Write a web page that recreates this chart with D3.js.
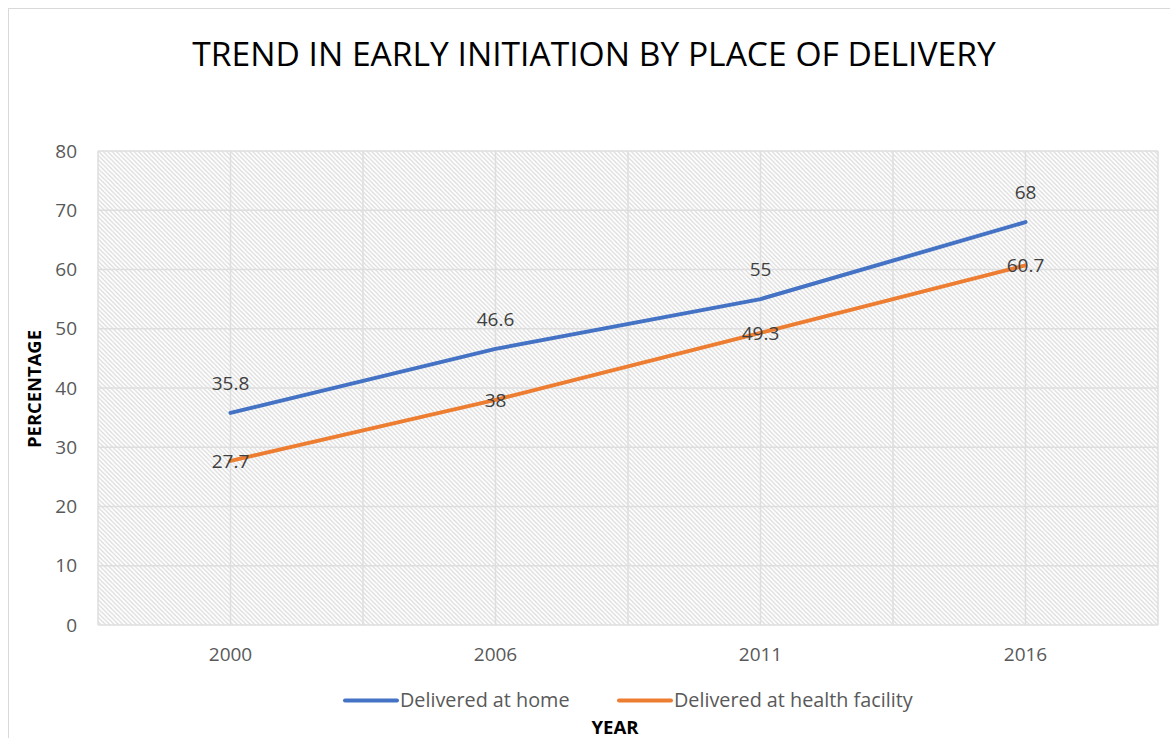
<!DOCTYPE html>
<html>
<head>
<meta charset="utf-8">
<script src="https://cdn.jsdelivr.net/npm/d3@7"></script>
<style>
  body { margin: 0; background: #fff; }
  text { font-family: "Open Sans", "DejaVu Sans", sans-serif; }
</style>
</head>
<body>
<svg id="chart"></svg>
<script>
const width = 1170, height = 738;

// chart data
const years = ["2000", "2006", "2011", "2016"];
const homeValues = [35.8, 46.6, 55, 68];
const facilityValues = [27.7, 38, 49.3, 60.7];
const yTicks = [0, 10, 20, 30, 40, 50, 60, 70, 80];
const seriesNames = ["Delivered at home", "Delivered at health facility"];
const seriesColors = ["#4472C4", "#ED7D31"];

const plot = { left: 98, right: 1158, top: 151, bottom: 625 };

const svg = d3.select("#chart")
    .attr("width", width)
    .attr("height", height);

// hatch pattern for plot background
const defs = svg.append("defs");
const pat = defs.append("pattern")
    .attr("id", "hatch")
    .attr("patternUnits", "userSpaceOnUse")
    .attr("width", 4.4)
    .attr("height", 4.4);
pat.append("path")
    .attr("d", "M-1,-1 L5.4,5.4 M-1,3.4 L1,5.4 M3.4,-1 L5.4,1")
    .attr("stroke", "#d8d8d8")
    .attr("stroke-width", 1.1);

// outer chart border
svg.append("rect")
    .attr("x", 8.5).attr("y", 8.5)
    .attr("width", 1200).attr("height", 800)
    .attr("fill", "none")
    .attr("stroke", "#d9d9d9");

const x = d3.scaleBand()
    .domain(years)
    .range([plot.left, plot.right]);

const y = d3.scaleLinear()
    .domain([0, 80])
    .range([plot.bottom, plot.top]);

const cx = d => x(d) + x.bandwidth() / 2;

svg.append("rect")
    .attr("x", plot.left).attr("y", plot.top)
    .attr("width", plot.right - plot.left)
    .attr("height", plot.bottom - plot.top)
    .attr("fill", "url(#hatch)");

// horizontal gridlines
svg.append("g")
    .selectAll("line")
    .data(yTicks)
    .join("line")
    .attr("x1", plot.left).attr("x2", plot.right)
    .attr("y1", d => y(d)).attr("y2", d => y(d))
    .attr("stroke", "#dedede")
    .attr("stroke-width", 1.5);

// vertical gridlines: band edges and category centres
const vLines = [];
years.forEach(yr => { vLines.push(x(yr)); vLines.push(cx(yr)); });
vLines.push(plot.right);
svg.append("g")
    .selectAll("line")
    .data(vLines)
    .join("line")
    .attr("x1", d => d).attr("x2", d => d)
    .attr("y1", plot.top).attr("y2", plot.bottom)
    .attr("stroke", "#dedede")
    .attr("stroke-width", 1.5);

// y axis labels
svg.append("g")
    .selectAll("text")
    .data(yTicks)
    .join("text")
    .attr("x", 77)
    .attr("y", d => y(d))
    .attr("dy", "0.35em")
    .attr("text-anchor", "end")
    .attr("font-size", 19)
    .attr("fill", "#595959")
    .text(d => d);

// x axis labels
svg.append("g")
    .selectAll("text")
    .data(years)
    .join("text")
    .attr("x", d => cx(d))
    .attr("y", 654)
    .attr("dy", "0.35em")
    .attr("text-anchor", "middle")
    .attr("font-size", 19)
    .attr("fill", "#595959")
    .text(d => d);

// lines
const line = d3.line()
    .x((d, i) => cx(years[i]))
    .y(d => y(d));

[homeValues, facilityValues].forEach((vals, k) => {
    svg.append("path")
        .datum(vals)
        .attr("d", line)
        .attr("fill", "none")
        .attr("stroke", seriesColors[k])
        .attr("stroke-width", 4)
        .attr("stroke-linecap", "round")
        .attr("stroke-linejoin", "round");
});

// data labels: home above, facility centred
svg.append("g")
    .selectAll("text")
    .data(homeValues)
    .join("text")
    .attr("x", (d, i) => cx(years[i]))
    .attr("y", d => y(d) - 30)
    .attr("dy", "0.35em")
    .attr("text-anchor", "middle")
    .attr("font-size", 19)
    .attr("fill", "#404040")
    .text(d => d);

svg.append("g")
    .selectAll("text")
    .data(facilityValues)
    .join("text")
    .attr("x", (d, i) => cx(years[i]))
    .attr("y", d => y(d))
    .attr("dy", "0.35em")
    .attr("text-anchor", "middle")
    .attr("font-size", 19)
    .attr("fill", "#404040")
    .text(d => d);

// title
svg.append("text")
    .attr("x", 594)
    .attr("y", 66)
    .attr("text-anchor", "middle")
    .attr("font-size", 33.6)
    .attr("fill", "#000")
    .text("TREND IN EARLY INITIATION BY PLACE OF DELIVERY");

// axis titles
svg.append("text")
    .attr("transform", "translate(41,389) rotate(-90)")
    .attr("text-anchor", "middle")
    .attr("font-size", 18.4)
    .attr("font-weight", "bold")
    .attr("fill", "#000")
    .text("PERCENTAGE");

svg.append("text")
    .attr("x", 615)
    .attr("y", 734)
    .attr("text-anchor", "middle")
    .attr("font-size", 18.6)
    .attr("font-weight", "bold")
    .attr("fill", "#000")
    .text("YEAR");

// legend
const legendX = [345, 619];
const legend = svg.append("g");
seriesNames.forEach((name, k) => {
    legend.append("line")
        .attr("x1", legendX[k]).attr("x2", legendX[k] + 52)
        .attr("y1", 700.5).attr("y2", 700.5)
        .attr("stroke", seriesColors[k])
        .attr("stroke-width", 4)
        .attr("stroke-linecap", "round");
    legend.append("text")
        .attr("x", legendX[k] + 55)
        .attr("y", 700)
        .attr("dy", "0.35em")
        .attr("font-size", 19.8)
        .attr("fill", "#595959")
        .text(name);
});
</script>
</body>
</html>
